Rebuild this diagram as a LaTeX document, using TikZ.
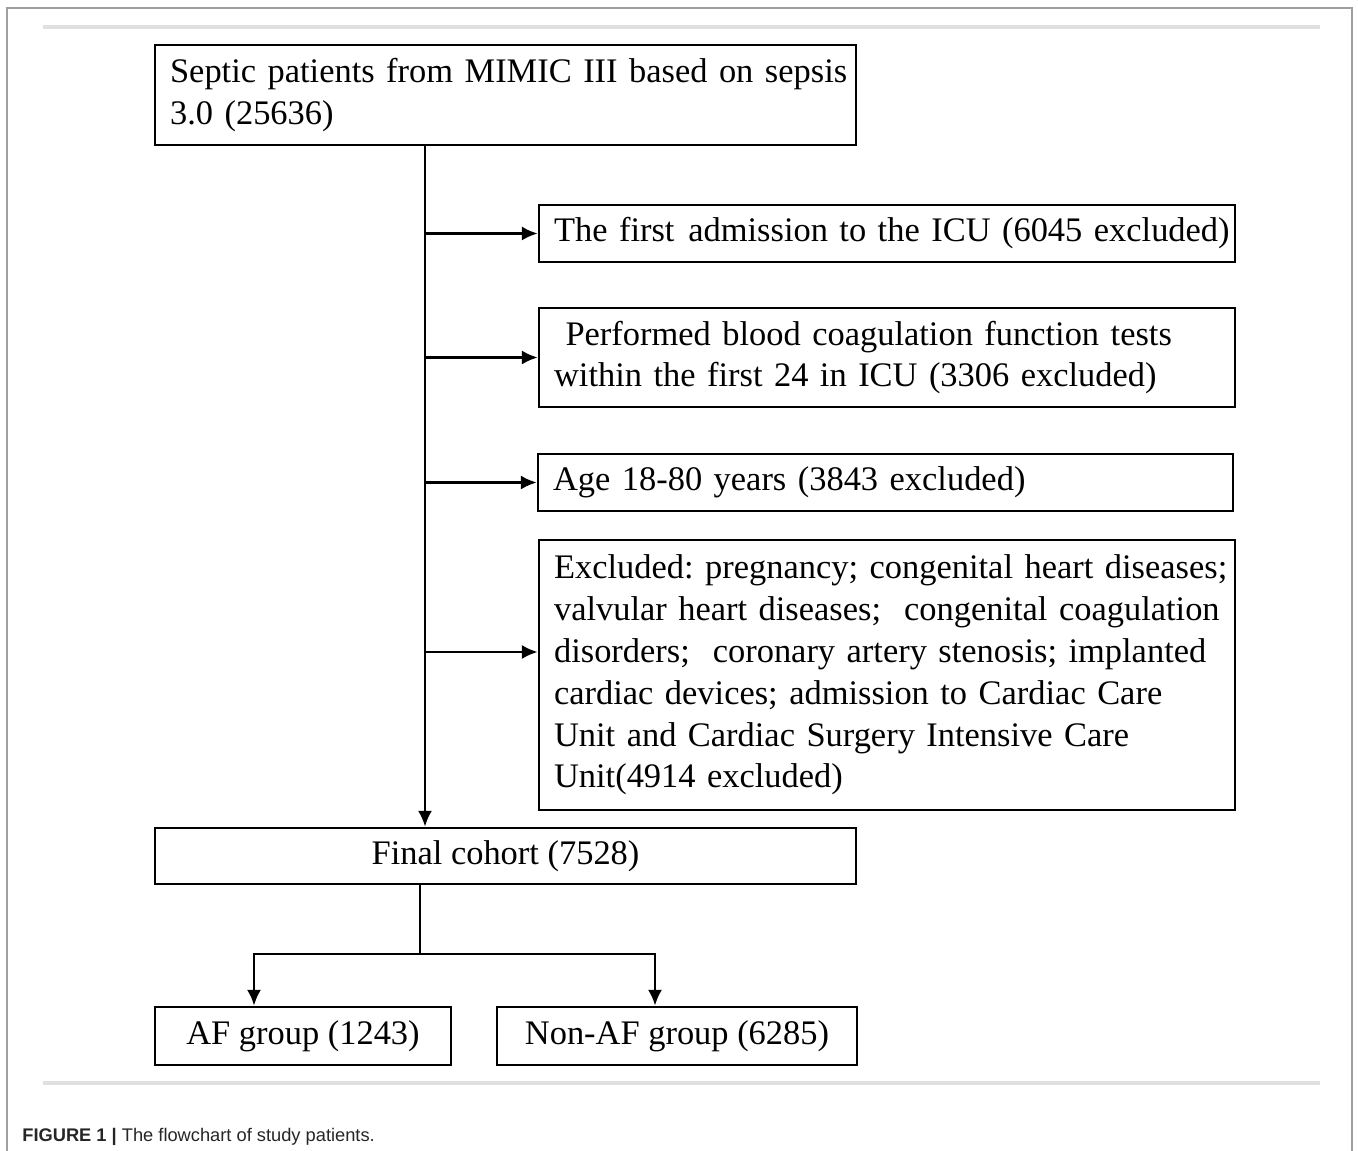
\documentclass[tikz,border=0pt]{standalone}
\usepackage{fontspec}
\setmainfont{Liberation Serif}
\newfontfamily\capfont{Liberation Sans}
\usetikzlibrary{arrows.meta}
\tikzstyle{box}=[draw,line width=1.5pt,inner xsep=0.3cm,inner ysep=0pt,font=\fontsize{19.6}{23.8}\selectfont\frenchspacing]
\tikzstyle{excl}=[box,minimum width=13.92cm,text width=13.32cm,align=left]
\tikzstyle{link}=[line width=1.5pt]

\begin{document}
\begin{tikzpicture}[x=0.02cm,y=-0.02cm,>={Latex[length=9pt,width=8pt]}]
	\useasboundingbox (0,0) rectangle (1358,1151);
	% frame and rules
	\draw[gray!75,line width=0.8pt] (7,1151) -- (7,8) -- (1352,8) -- (1352,1151);
	\draw[black!12,line width=2pt] (43,27) -- (1320,27);
	\draw[black!12,line width=2pt] (43,1083) -- (1320,1083);

	\node[box,minimum width=14.02cm,text width=13.42cm,align=left,minimum height=2cm] (src) at (505.5,95) {\mbox{Septic patients from MIMIC III based on sepsis}\\3.0 (25636)};
	\node[excl,minimum height=1.14cm] (ex1) at (887,233.5) {\mbox{The first\hspace{0.4em}admission to the ICU (6045 excluded)}};
	\node[excl,minimum height=1.98cm] (ex2) at (887,357.5) {\ Performed blood coagulation function tests\\within the first 24 in ICU (3306 excluded)};
	\node[excl,minimum width=13.9cm,text width=13.3cm,minimum height=1.14cm] (ex3) at (885.5,482.5) {Age 18-80 years (3843 excluded)};
	\node[excl,minimum height=5.4cm] (ex4) at (887,675) {\mbox{Excluded: pregnancy; congenital heart diseases;}\\\mbox{valvular heart diseases;\ \ congenital coagulation}\\disorders;\ \ coronary artery stenosis; implanted\\cardiac devices; admission to Cardiac Care\\Unit and Cardiac Surgery Intensive Care\\Unit(4914 excluded)};
	\node[box,minimum width=14.02cm,minimum height=1.12cm] (final) at (505.5,856) {Final cohort (7528)};
	\node[box,minimum width=5.92cm,minimum height=1.16cm] (af) at (303,1036) {AF group (1243)};
	\node[box,minimum width=7.2cm,minimum height=1.16cm] (naf) at (677,1036) {Non-AF group (6285)};

	% exclusion flow
	\coordinate (trunk) at (425,0);
	\draw[link,->] (src.south -| trunk) -- (final.north -| trunk);
	\foreach \n in {ex1,ex2,ex3}
		\draw[link,->] (trunk |- \n.west) -- (\n.west);
	\draw[link,->] (trunk |- 0,652) -- (ex4.west |- 0,652);

	% split into groups
	\coordinate (split) at (420,954);
	\draw[link] (final.south -| split) -- (split);
	\draw[link,->] (split) -| ([xshift=-0.98cm]af.north);
	\draw[link,->] (split) -| ([xshift=-0.44cm]naf.north);

	\node[anchor=base west,inner sep=0pt,text=black!85,font=\capfont\fontsize{10.4}{12}\selectfont] (cap) at (22,1141) {\textbf{FIGURE 1 |} The flowchart of study patients.};
\end{tikzpicture}
\end{document}
